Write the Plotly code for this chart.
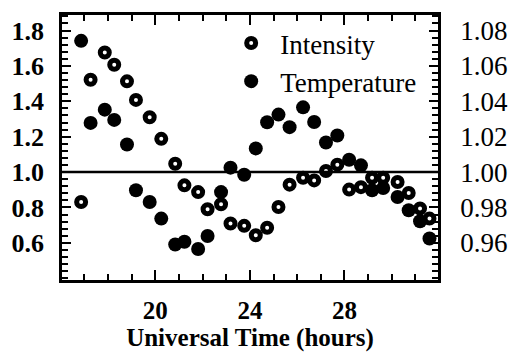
import plotly.graph_objects as go

# Universal time (hours)
hours = [16.86, 17.26, 17.86, 18.26, 18.80, 19.18, 19.76, 20.25, 20.84, 21.23,
         21.81, 22.21, 22.78, 23.18, 23.76, 24.25, 24.73, 25.21, 25.68, 26.25,
         26.72, 27.22, 27.70, 28.20, 28.70, 29.17, 29.64, 30.25, 30.72, 31.20, 31.60]

# Relative intensity (left axis)
intensity = [0.831, 1.522, 1.676, 1.607, 1.513, 1.408, 1.310, 1.188, 1.047, 0.925,
             0.887, 0.790, 0.818, 0.709, 0.696, 0.643, 0.685, 0.803, 0.929, 0.968,
             0.953, 1.006, 1.042, 0.901, 0.915, 0.968, 0.968, 0.944, 0.882, 0.794, 0.737]

# Relative temperature (right axis)
temperature = [1.0742, 1.0278, 1.0353, 1.0295, 1.0156, 0.9897, 0.9831, 0.9737, 0.9591, 0.9606,
               0.9565, 0.9639, 0.9887, 1.0025, 0.9985, 1.0134, 1.0282, 1.0325, 1.0254, 1.0366,
               1.0283, 1.0167, 1.0207, 1.0070, 1.0038, 0.9897, 0.9910, 0.9859, 0.9784, 0.9722, 0.9625]

left_ticks = [0.6, 0.8, 1.0, 1.2, 1.4, 1.6, 1.8]
right_ticks = [0.96, 0.98, 1.00, 1.02, 1.04, 1.06, 1.08]
x_ticks = [20, 24, 28]

SERIF = "Liberation Serif"

fig = go.Figure()
fig.add_trace(go.Scatter(
    x=hours, y=intensity, mode="markers", name="Intensity", legendrank=1,
    marker=dict(symbol="circle", size=9, color="white", line=dict(color="black", width=5)),
    yaxis="y"))
fig.add_trace(go.Scatter(
    x=hours, y=temperature, mode="markers", name="Temperature", legendrank=2,
    marker=dict(symbol="circle", size=14, color="black", line=dict(width=0)),
    yaxis="y2"))

fig.add_shape(type="line", xref="paper", x0=0, x1=1, yref="y", y0=1.0, y1=1.0,
              line=dict(color="black", width=2.5))

fig.update_layout(
    width=520, height=361,
    margin=dict(l=60, r=67, t=14, b=81),
    paper_bgcolor="white", plot_bgcolor="white",
    showlegend=True,
    legend=dict(x=0.426, y=0.985, xanchor="left", yanchor="top",
                font=dict(family=SERIF, size=27, color="black"),
                bgcolor="rgba(0,0,0,0)", itemwidth=48, tracegroupgap=0),
    xaxis=dict(range=[16.05, 31.96], tickvals=x_ticks, ticktext=[str(v) for v in x_ticks],
               ticks="inside", ticklen=10, tickwidth=2, tickcolor="black",
               minor=dict(dtick=1, tick0=16, ticks="inside", ticklen=6, tickwidth=1.5, tickcolor="black"),
               showline=True, linecolor="black", linewidth=2.5, mirror="ticks",
               showgrid=False, zeroline=False,
               tickfont=dict(family=SERIF, size=25, color="black", weight="bold"),
               ticklabelstandoff=6,
               title=dict(text="Universal Time (hours)", standoff=0,
                          font=dict(family=SERIF, size=25, color="black", weight="bold"))),
    yaxis=dict(range=[0.39, 1.888], tickvals=left_ticks, ticktext=[f"{v:.1f}" for v in left_ticks],
               ticks="inside", ticklen=9, tickwidth=2, tickcolor="black",
               minor=dict(dtick=0.04, tick0=0.6, ticks="inside", ticklen=6, tickwidth=1.5, tickcolor="black"),
               showline=True, linecolor="black", linewidth=2.5, mirror=True,
               showgrid=False, zeroline=False,
               tickfont=dict(family=SERIF, size=26, color="black", weight="bold"),
               ticklabelstandoff=10),
    yaxis2=dict(range=[0.939, 1.0888], overlaying="y", side="right",
                tickvals=right_ticks, ticktext=[f"{v:.2f}" for v in right_ticks],
                ticks="inside", ticklen=9, tickwidth=2, tickcolor="black",
                minor=dict(dtick=0.004, tick0=0.96, ticks="inside", ticklen=6, tickwidth=1.5, tickcolor="black"),
                showline=True, linecolor="black", linewidth=2.5,
                showgrid=False, zeroline=False,
                tickfont=dict(family=SERIF, size=27, color="black"),
                ticklabelstandoff=14),
)

fig.write_html("out.html", config={"displayModeBar": False},
               post_script="document.body.style.margin='0px';")
